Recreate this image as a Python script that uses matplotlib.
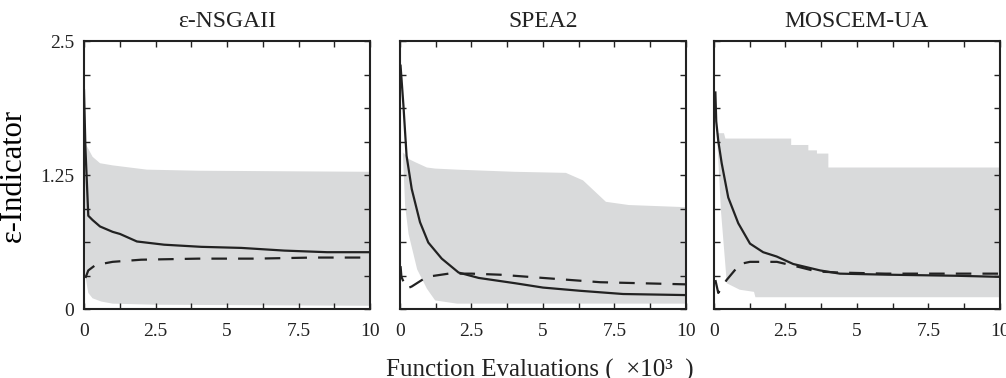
import matplotlib
matplotlib.use('Agg')
import matplotlib.pyplot as plt
import numpy as np

plt.rcParams['font.family'] = ['Liberation Serif', 'DejaVu Serif']

titles = ['ε-NSGAII', 'SPEA2', 'MOSCEM-UA']

# eps-NSGAII
sol1_x = [0, 0.05, 0.15, 0.3, 0.56, 1.0, 1.26, 1.85, 2.8, 4.1, 5.5, 7.0, 8.5, 10]
sol1_y = [2.04, 1.5, 0.87, 0.83, 0.77, 0.72, 0.70, 0.63, 0.60, 0.58, 0.57, 0.545, 0.53, 0.53]
dash1_x = [0.05, 0.15, 0.4, 1.0, 2.0, 4.0, 6.0, 8.0, 10]
dash1_y = [0.29, 0.36, 0.41, 0.44, 0.46, 0.47, 0.47, 0.48, 0.48]
up1_x = [0, 0.1, 0.3, 0.56, 1.0, 2.2, 4, 10]
up1_y = [1.56, 1.52, 1.42, 1.36, 1.34, 1.30, 1.29, 1.28]
lo1_x = [0, 0.05, 0.15, 0.3, 0.6, 1.0, 2.5, 10]
lo1_y = [1.56, 0.30, 0.15, 0.10, 0.07, 0.05, 0.04, 0.03]

# SPEA2
sol2_x = [0.02, 0.12, 0.23, 0.41, 0.70, 0.99, 1.46, 2.05, 2.75, 4.04, 5.0, 6.3, 7.8, 10]
sol2_y = [2.27, 1.90, 1.43, 1.12, 0.81, 0.62, 0.47, 0.34, 0.29, 0.24, 0.20, 0.17, 0.14, 0.13]
dash2_x = [0.02, 0.05, 0.23, 0.41, 0.94, 1.7, 2.5, 3.5, 5.0, 7.0, 10]
dash2_y = [0.40, 0.30, 0.19, 0.21, 0.30, 0.33, 0.33, 0.32, 0.29, 0.25, 0.23]
up2_x = [0.1, 0.18, 0.3, 0.53, 0.94, 1.23, 2.0, 4.0, 5.8, 6.4, 6.8, 7.2, 8.0, 10]
up2_y = [1.46, 1.44, 1.40, 1.37, 1.32, 1.31, 1.30, 1.28, 1.27, 1.20, 1.10, 1.0, 0.97, 0.95]
lo2_x = [0.1, 0.18, 0.3, 0.6, 0.94, 1.23, 2.0, 10]
lo2_y = [1.46, 0.96, 0.70, 0.37, 0.19, 0.08, 0.05, 0.05]

# MOSCEM-UA
sol3_x = [0.05, 0.08, 0.15, 0.27, 0.5, 0.85, 1.26, 1.72, 2.19, 2.77, 3.71, 4.4, 6.1, 8.5, 10]
sol3_y = [2.02, 1.75, 1.57, 1.36, 1.04, 0.80, 0.61, 0.53, 0.49, 0.42, 0.36, 0.33, 0.32, 0.31, 0.30]
dash3_x = [0.05, 0.15, 0.44, 0.91, 1.26, 2.2, 3.0, 3.6, 4.4, 6.0, 10]
dash3_y = [0.27, 0.15, 0.27, 0.42, 0.44, 0.44, 0.39, 0.35, 0.34, 0.33, 0.33]
up3_x = [0.1, 0.35, 0.4, 2.7, 2.7, 3.3, 3.3, 3.6, 3.6, 4.0, 4.0, 10]
up3_y = [1.64, 1.64, 1.59, 1.59, 1.53, 1.53, 1.48, 1.48, 1.45, 1.45, 1.32, 1.32]
lo3_x = [0.1, 0.25, 0.45, 0.9, 1.4, 1.45, 10]
lo3_y = [1.64, 0.90, 0.24, 0.18, 0.16, 0.11, 0.11]

panels = [
    (sol1_x, sol1_y, dash1_x, dash1_y, up1_x, up1_y, lo1_x, lo1_y),
    (sol2_x, sol2_y, dash2_x, dash2_y, up2_x, up2_y, lo2_x, lo2_y),
    (sol3_x, sol3_y, dash3_x, dash3_y, up3_x, up3_y, lo3_x, lo3_y),
]

fig = plt.figure(figsize=(10.06, 3.78), dpi=100)
lefts = [0.0835, 0.3976, 0.7097]

for i, (sx, sy, dx, dy, ux, uy, lx, ly) in enumerate(panels):
    ax = fig.add_axes([lefts[i], 0.1825, 0.2843, 0.709])
    # shaded range: upper edge then lower edge reversed
    px = np.r_[ux, lx[::-1]]
    py = np.r_[uy, ly[::-1]]
    ax.fill(px, py, color='#d9dadb', lw=0)
    ax.plot(sx, sy, color='#222222', lw=1.6)
    ax.plot(dx, dy, color='#222222', lw=1.6, linestyle=(0, (7, 5)))
    ax.set_xlim(0, 10)
    ax.set_ylim(0, 2.5)
    ax.set_xticks([0, 2.5, 5, 7.5, 10])
    ax.set_xticklabels(['0', '2.5', '5', '7.5', '10'])
    ax.set_xticks(np.arange(1.25, 10, 2.5), minor=True)
    ax.set_yticks([0, 1.25, 2.5])
    ax.set_yticks(np.arange(0.3125, 2.5, 0.3125), minor=True)
    if i == 0:
        ax.set_yticklabels(['0', '1.25', '2.5'])
        ax.set_ylabel('ε-Indicator', fontsize=22, labelpad=9)
    else:
        ax.set_yticklabels([])
    ax.tick_params(which='both', direction='in', top=True, right=True,
                   length=4, width=1, labelsize=14, colors='#222222')
    ax.tick_params(axis='x', pad=10)
    ax.tick_params(axis='y', pad=7)
    for s in ax.spines.values():
        s.set_linewidth(1.5)
        s.set_color('#222222')
    ax.set_title(titles[i], fontsize=17, pad=10, color='#222222')

fig.text(0.537, 0.004, 'Function Evaluations (  ×10³  )', ha='center', va='baseline',
         fontsize=18, color='#222222')

fig.savefig('out.png', dpi=100)
